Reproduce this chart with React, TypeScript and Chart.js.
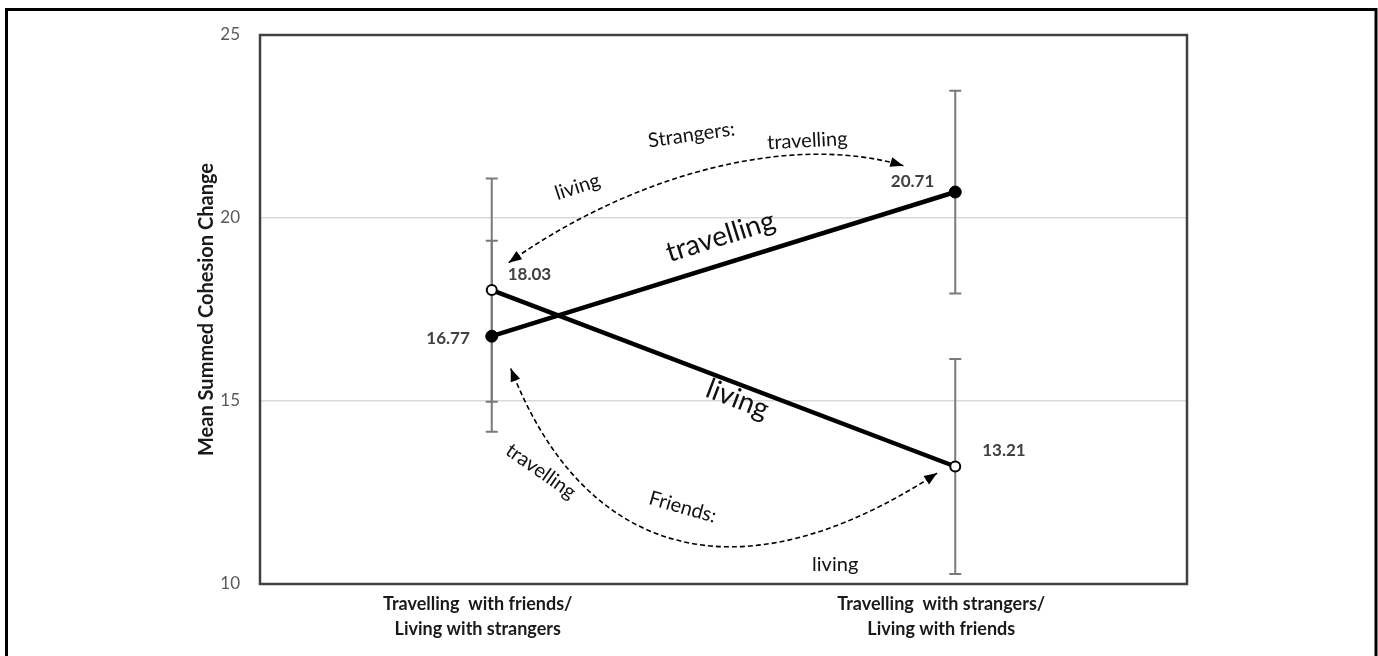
import React, { useEffect, useRef } from 'react';
import { Chart, registerables } from 'chart.js';

Chart.register(...registerables);

// ---------- data ----------
const categories: string[][] = [
  ['Travelling  with friends/', 'Living with strangers'],
  ['Travelling  with strangers/', 'Living with friends'],
];
const travellingMeans = [16.77, 20.71];
const livingMeans = [18.03, 13.21];
const travellingErrors = [2.61, 2.77];
const livingErrors = [3.05, 2.94];
const yTicks = [10, 15, 20, 25];
const yTitle = 'Mean Summed Cohesion Change';

// annotation texts, anchored in data space (x = fractional category index, y = value)
const annotationTexts = [
  { text: 'Strangers:', xi: 0.431, v: 22.27, rot: -8, size: 20, weight: 'normal' },
  { text: 'travelling', xi: 0.681, v: 22.11, rot: -3, size: 20, weight: 'normal' },
  { text: 'living', xi: 0.185, v: 20.85, rot: -18, size: 20, weight: 'normal' },
  { text: 'travelling', xi: 0.4935, v: 19.49, rot: -17.5, size: 28, weight: 'normal' },
  { text: 'living', xi: 0.53, v: 15.05, rot: 21, size: 28, weight: 'normal' },
  { text: 'travelling', xi: 0.106, v: 13.08, rot: 35, size: 20, weight: 'normal' },
  { text: 'Friends:', xi: 0.412, v: 12.1, rot: 16, size: 20, weight: 'normal' },
  { text: 'living', xi: 0.741, v: 10.52, rot: 0, size: 20, weight: 'normal' },
];

// dashed double-headed arrows as cubic Bezier control points in data space
const strangersArrow = [
  [0.0366, 18.78],
  [0.2996, 21.155],
  [0.64, 22.355],
  [0.888, 21.43],
];
const friendsArrow = [
  [0.041, 15.89],
  [0.196, 10.82],
  [0.526, 9.43],
  [0.961, 13.03],
];

const FONT = 'Lato, "Open Sans", sans-serif';

function drawArrowHead(ctx: CanvasRenderingContext2D, x: number, y: number, ang: number) {
  const len = 13;
  const half = 5;
  ctx.save();
  ctx.translate(x, y);
  ctx.rotate(ang);
  ctx.beginPath();
  ctx.moveTo(0, 0);
  ctx.lineTo(-len, -half);
  ctx.lineTo(-len, half);
  ctx.closePath();
  ctx.fillStyle = '#000';
  ctx.fill();
  ctx.restore();
}

const overlayPlugin = {
  id: 'overlay',
  beforeDatasetsDraw(chart: any) {
    const ctx: CanvasRenderingContext2D = chart.ctx;
    const area = chart.chartArea;
    const xs = chart.scales.x;
    const ys = chart.scales.y;
    // plot box
    ctx.save();
    ctx.strokeStyle = '#404040';
    ctx.lineWidth = 2.5;
    ctx.strokeRect(area.left, area.top, area.right - area.left, area.bottom - area.top);
    // error bars
    ctx.strokeStyle = '#7a7a7a';
    ctx.lineWidth = 2;
    const drawErr = (means: number[], errs: number[]) => {
      means.forEach((m, i) => {
        const x = xs.getPixelForValue(i);
        const yTop = ys.getPixelForValue(m + errs[i]);
        const yBot = ys.getPixelForValue(m - errs[i]);
        ctx.beginPath();
        ctx.moveTo(x, yTop);
        ctx.lineTo(x, yBot);
        ctx.moveTo(x - 6, yTop);
        ctx.lineTo(x + 6, yTop);
        ctx.moveTo(x - 6, yBot);
        ctx.lineTo(x + 6, yBot);
        ctx.stroke();
      });
    };
    drawErr(livingMeans, livingErrors);
    drawErr(travellingMeans, travellingErrors);
    ctx.restore();
  },
  afterDraw(chart: any) {
    const ctx: CanvasRenderingContext2D = chart.ctx;
    const xs = chart.scales.x;
    const ys = chart.scales.y;
    const area = chart.chartArea;
    const x0 = xs.getPixelForValue(0);
    const x1 = xs.getPixelForValue(1);
    const px = (xi: number) => x0 + xi * (x1 - x0);
    const py = (v: number) => ys.getPixelForValue(v);

    ctx.save();
    // outer frame
    ctx.strokeStyle = '#000';
    ctx.lineWidth = 3;
    ctx.strokeRect(6.5, 9.5, 1369.5, 700);

    // y title
    ctx.save();
    ctx.translate(207, (area.top + area.bottom) / 2);
    ctx.rotate(-Math.PI / 2);
    ctx.font = `bold 20px ${FONT}`;
    ctx.fillStyle = '#1a1a1a';
    ctx.textAlign = 'center';
    ctx.textBaseline = 'middle';
    ctx.fillText(yTitle, 0, 0);
    ctx.restore();

    // category labels (two lines each)
    ctx.font = `bold 18px ${FONT}`;
    ctx.fillStyle = '#1a1a1a';
    ctx.textAlign = 'center';
    ctx.textBaseline = 'middle';
    categories.forEach((lines, i) => {
      const cx = xs.getPixelForValue(i) - 14;
      lines.forEach((ln, k) => {
        ctx.fillText(ln, cx, area.bottom + 20 + k * 25);
      });
    });

    // value labels
    ctx.font = `bold 17px ${FONT}`;
    ctx.fillStyle = '#404040';
    ctx.textBaseline = 'middle';
    const label = (v: number, i: number, align: CanvasTextAlign, dx: number, dy: number) => {
      ctx.textAlign = align;
      ctx.fillText(v.toFixed(2), xs.getPixelForValue(i) + dx, ys.getPixelForValue(v) + dy);
    };
    label(livingMeans[0], 0, 'left', 16, -16);
    label(travellingMeans[0], 0, 'right', -22, 2);
    label(travellingMeans[1], 1, 'right', -21, -10);
    label(livingMeans[1], 1, 'left', 27, -16);

    // dashed arrows
    const drawArrow = (pts: number[][]) => {
      const p = pts.map(([xi, v]) => [px(xi), py(v)]);
      ctx.save();
      ctx.strokeStyle = '#000';
      ctx.lineWidth = 1.6;
      ctx.setLineDash([5, 3]);
      ctx.beginPath();
      ctx.moveTo(p[0][0], p[0][1]);
      ctx.bezierCurveTo(p[1][0], p[1][1], p[2][0], p[2][1], p[3][0], p[3][1]);
      ctx.stroke();
      ctx.restore();
      const a0 = Math.atan2(p[0][1] - p[1][1], p[0][0] - p[1][0]);
      const a1 = Math.atan2(p[3][1] - p[2][1], p[3][0] - p[2][0]);
      drawArrowHead(ctx, p[0][0], p[0][1], a0);
      drawArrowHead(ctx, p[3][0], p[3][1], a1);
    };
    drawArrow(strangersArrow);
    drawArrow(friendsArrow);

    // annotation texts
    annotationTexts.forEach((t) => {
      ctx.save();
      ctx.translate(px(t.xi), py(t.v));
      ctx.rotate((t.rot * Math.PI) / 180);
      ctx.font = `${t.weight} ${t.size}px ${FONT}`;
      ctx.fillStyle = '#111';
      ctx.textAlign = 'center';
      ctx.textBaseline = 'middle';
      ctx.fillText(t.text, 0, 0);
      ctx.restore();
    });
    ctx.restore();
  },
};

export default function App() {
  const ref = useRef<HTMLCanvasElement | null>(null);
  useEffect(() => {
    if (!ref.current) return;
    const chart = new Chart(ref.current, {
      type: 'line',
      data: {
        labels: categories as any,
        datasets: [
          {
            label: 'living',
            data: livingMeans,
            borderColor: '#000',
            borderWidth: 4.5,
            pointRadius: 5,
            pointBackgroundColor: '#fff',
            pointBorderColor: '#000',
            pointBorderWidth: 2,
            tension: 0,
          },
          {
            label: 'travelling',
            data: travellingMeans,
            borderColor: '#000',
            borderWidth: 4.5,
            pointRadius: 6,
            pointBackgroundColor: '#000',
            pointBorderColor: '#000',
            pointBorderWidth: 1,
            tension: 0,
          },
        ],
      },
      options: {
        animation: false,
        responsive: false,
        maintainAspectRatio: false,
        layout: { padding: { top: 35, right: 191, left: 0, bottom: 0 } },
        plugins: { legend: { display: false }, tooltip: { enabled: false } },
        scales: {
          x: {
            type: 'category',
            offset: true,
            grid: { display: false, drawTicks: false },
            border: { display: false },
            ticks: { display: false },
            afterFit: (s: any) => {
              s.height = 72;
            },
          },
          y: {
            min: 10,
            max: 25,
            afterBuildTicks: (s: any) => {
              s.ticks = yTicks.map((v) => ({ value: v }));
            },
            grid: { color: '#d9d9d9', lineWidth: 1.5, drawTicks: false },
            border: { display: false },
            ticks: {
              padding: 20,
              color: '#595959',
              font: { family: FONT, size: 17 },
            },
            afterFit: (s: any) => {
              s.width = 260;
            },
          },
        },
      },
      plugins: [overlayPlugin],
    });
    return () => chart.destroy();
  }, []);
  return (
    <div style={{ position: 'fixed', left: 0, top: 0, width: 1378, height: 656, background: '#fff' }}>
      <canvas ref={ref} width={1378} height={656} style={{ width: 1378, height: 656, display: 'block' }} />
    </div>
  );
}
